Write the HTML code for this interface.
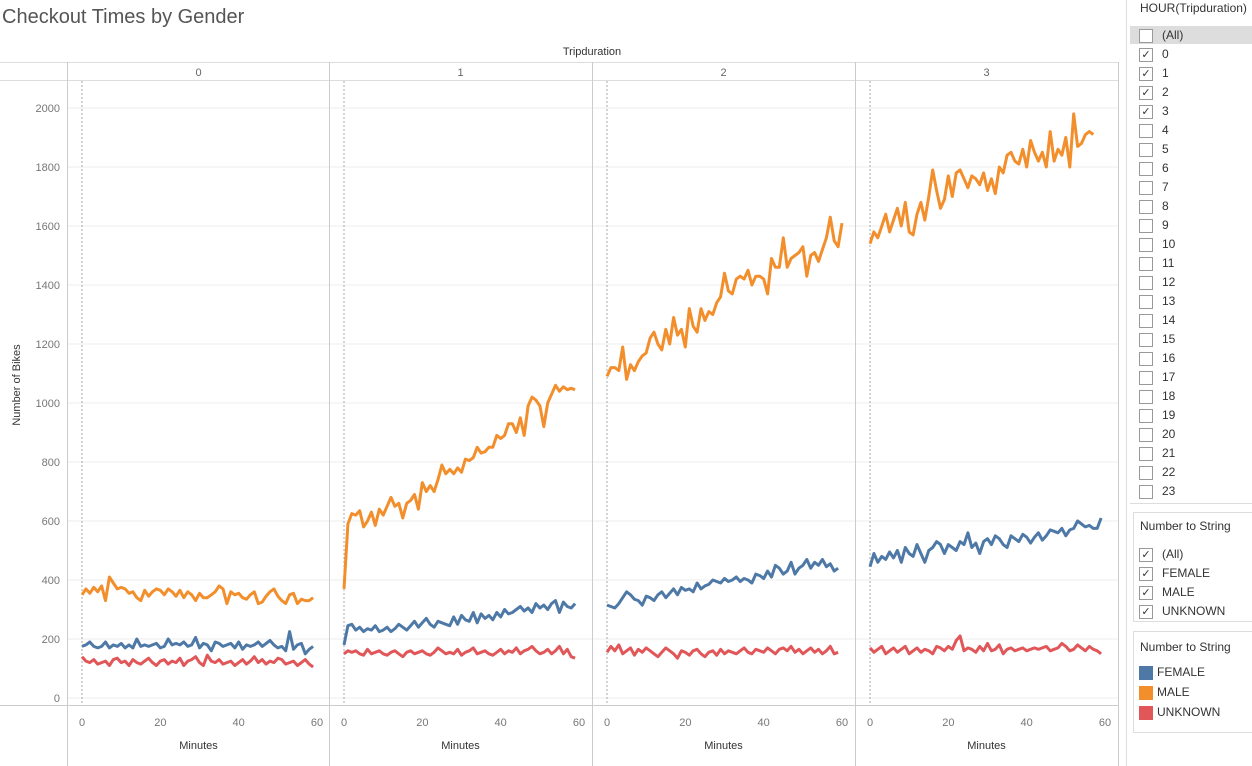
<!DOCTYPE html>
<html><head><meta charset="utf-8"><style>
body{margin:0;width:1252px;height:766px;background:#fff;font-family:"Liberation Sans",sans-serif;overflow:hidden;position:relative}
.t{position:absolute;white-space:nowrap}
.row{position:absolute;left:1140px;font-size:12px;color:#333;height:19px;line-height:19px}
.cb{position:absolute;left:-1px;top:3px;width:12px;height:12px;border:1px solid #999;background:#fff;font-size:11px;line-height:12px;text-align:center;color:#333}
.sw{position:absolute;left:-1px;top:3px;width:14px;height:14px}
</style></head><body>
<div class="t" style="left:2px;top:6px;font-size:20px;color:#555">Checkout Times by Gender</div>
<svg id="chart" width="1125" height="766" style="position:absolute;left:0;top:0"></svg>
<div style="position:absolute;left:1126px;top:0;width:1px;height:766px;background:#ddd"></div>
<div id="filters"></div>
<script>
const minutes=[...Array(61).keys()];
const male0=[350,370,355,375,360,380,330,410,390,370,375,370,355,360,340,330,365,345,360,370,365,350,370,360,345,365,340,360,350,330,355,340,340,350,360,380,370,320,360,350,355,340,335,350,360,320,325,345,360,370,345,330,320,350,355,320,335,330,330,340];
const female0=[175,180,190,175,170,175,190,170,180,175,185,170,180,170,200,175,180,175,180,185,170,175,200,180,185,180,190,175,180,205,170,185,180,160,190,185,175,180,185,170,190,165,180,175,180,190,175,185,195,180,170,175,160,225,165,180,185,150,165,175];
const unk0=[140,125,120,130,115,120,125,110,130,135,120,125,110,130,120,115,125,135,120,110,125,130,115,125,120,135,110,125,130,140,120,110,145,125,120,130,115,120,125,110,120,130,115,125,140,120,130,115,125,120,135,130,115,120,125,110,120,130,115,105];
const male1=[370,590,625,620,635,580,600,630,585,640,620,650,680,650,660,610,660,670,690,640,730,700,720,700,740,790,760,775,760,780,765,810,805,815,850,830,835,850,850,890,880,890,930,930,900,950,890,990,1020,1010,990,920,1000,1030,1060,1040,1055,1045,1050,1045];
const female1=[180,245,250,230,240,225,235,230,245,225,230,240,225,235,250,240,230,245,260,240,255,270,250,240,260,255,250,245,275,250,280,265,260,290,255,285,270,280,265,290,275,300,285,290,300,310,295,305,290,320,305,315,300,320,330,290,325,310,305,320];
const unk1=[150,160,155,160,150,145,165,150,155,160,150,145,155,160,150,140,155,160,150,155,160,150,145,155,170,160,150,155,150,165,145,155,160,170,150,155,160,150,145,155,165,150,160,155,170,150,160,165,175,160,150,155,165,150,160,175,150,165,140,135];
const male2=[1090,1120,1120,1110,1190,1080,1130,1110,1140,1160,1170,1220,1240,1200,1180,1250,1200,1290,1230,1250,1190,1320,1260,1240,1320,1280,1310,1300,1340,1360,1440,1380,1370,1420,1430,1420,1450,1400,1430,1430,1420,1370,1490,1460,1460,1560,1460,1490,1500,1510,1530,1430,1500,1510,1480,1520,1560,1630,1550,1530,1610];
const female2=[315,310,305,320,340,360,350,335,330,315,345,340,330,350,360,340,355,370,350,375,365,370,360,390,370,380,385,400,395,390,405,395,400,410,395,405,400,390,420,415,405,430,410,450,440,420,430,460,420,440,450,470,440,460,450,470,445,455,430,440];
const unk2=[155,175,160,180,150,160,170,145,165,155,170,160,150,140,155,170,160,150,135,160,155,145,160,165,150,140,155,160,145,165,150,160,155,150,160,170,155,150,165,160,155,170,160,150,165,170,160,175,155,165,150,160,170,155,165,150,160,175,150,155];
const male3=[1540,1580,1560,1600,1640,1580,1620,1660,1600,1680,1580,1570,1640,1680,1620,1700,1790,1720,1660,1690,1770,1700,1780,1790,1760,1730,1770,1760,1740,1780,1720,1760,1710,1800,1780,1840,1850,1820,1810,1860,1800,1890,1850,1820,1850,1800,1920,1820,1860,1840,1900,1800,1980,1870,1880,1910,1920,1910];
const female3=[445,490,460,480,470,495,475,500,460,510,490,480,520,490,460,500,510,530,520,490,520,510,500,530,520,560,510,525,490,530,540,520,550,540,520,510,550,540,530,555,545,525,545,560,535,550,570,565,560,575,550,570,575,600,590,580,585,575,575,610];
const unk3=[170,155,165,175,150,160,170,155,165,175,150,160,170,155,165,160,150,175,170,160,175,165,195,210,160,170,165,155,175,160,185,160,165,180,150,165,170,160,165,170,160,165,170,165,170,175,160,165,170,185,175,160,165,180,170,160,175,165,160,150];
const tripHours=["0","1","2","3"];
const yTicks=[0,200,400,600,800,1000,1200,1400,1600,1800,2000];
const xTicks=[0,20,40,60];
const maleS=[male0,male1,male2,male3],femaleS=[female0,female1,female2,female3],unkS=[unk0,unk1,unk2,unk3];
const NS="http://www.w3.org/2000/svg",svg=document.getElementById('chart');
const panelL=[67,329,592,855],PW=263;
const yS=v=>698-v*0.295, xS=(p,m)=>panelL[p]+15+m*3.917;
function mk(tag,a,parent){const e=document.createElementNS(NS,tag);for(const k in a)e.setAttribute(k,a[k]);(parent||svg).appendChild(e);return e;}
function txt(x,y,s,sz,fill,anchor,extra){const e=mk('text',Object.assign({x:x,y:y,'font-size':sz,fill:fill,'text-anchor':anchor||'middle','font-family':'Liberation Sans, sans-serif'},extra||{}));e.textContent=s;return e;}
// gridlines
yTicks.forEach(v=>{const l=mk('line',{x1:67,x2:1118,y1:yS(v),y2:yS(v),stroke:'#ececec','stroke-width':1});


const t=txt(60,yS(v)+4,String(v),11,'#777','end');

});
mk('line',{x1:0,x2:1118,y1:80.5,y2:80.5,stroke:'#ddd'});
mk('line',{x1:0,x2:1118,y1:705.5,y2:705.5,stroke:'#ccc'});
mk('line',{x1:0,x2:1118,y1:62.5,y2:62.5,stroke:'#ddd'});
[67,329,592,855,1118].forEach(x=>mk('line',{x1:x+.5,x2:x+.5,y1:62,y2:766,stroke:'#ccc'}));
const ht=txt(592,55,'Tripduration',11,'#333');


const yl=txt(20,385,'Number of Bikes',11,'#333','middle',{transform:'rotate(-90 20 385)'});


tripHours.forEach((h,p)=>{
 const c=txt(panelL[p]+PW/2,76,h,11,'#666');
 
 
 mk('line',{x1:xS(p,0),x2:xS(p,0),y1:81,y2:705,stroke:'#aaa','stroke-dasharray':'2,2'});
 xTicks.forEach(m=>{const t=txt(xS(p,m),726,String(m),11,'#777');
  
  });
 const xt=txt(panelL[p]+PW/2,749,'Minutes',11,'#333');
 
 
 [[femaleS,'#4e79a7','female'],[maleS,'#f28e2b','male'],[unkS,'#e15759','unknown']].forEach(([S,col,n])=>{
  const d=S[p].map((v,i)=>(i?'L':'M')+xS(p,minutes[i]).toFixed(1)+','+yS(v).toFixed(1)).join('');
  const pa=mk('path',{d:d,fill:'none',stroke:col,'stroke-width':3,'stroke-linejoin':'round'});
  
  
 });
});
// filters
const F=document.getElementById('filters');
function div(html,style,name,inter){const d=document.createElement('div');d.innerHTML=html;d.setAttribute('style',style);


F.appendChild(d);return d;}
div('HOUR(Tripduration)','position:absolute;left:1140px;top:0;font-size:12px;color:#333;line-height:17px','hour-filter-title','false');
div('','position:absolute;left:1130px;top:26px;width:122px;height:18px;background:#ddd','all-row-highlight','false');
const hrs=['(All)'].concat([...Array(24).keys()].map(String));
hrs.forEach((h,i)=>{const ck=i>=1&&i<=4;
 div('<span class="cb">'+(ck?'✓':'')+'</span><span style="margin-left:22px">'+h+'</span>','top:'+(26+i*19)+'px','hour-checkbox-'+h,'true').className='row';});
div('','position:absolute;left:1130px;top:503px;width:122px;height:1px;background:#ddd','divider','false');
div('','position:absolute;left:1133px;top:512px;width:119px;height:108px;border:1px solid #ddd;border-right:none','gender-filter-box','false');
div('Number to String','position:absolute;left:1140px;top:519px;font-size:12px;color:#333','gender-filter-title','false');
['(All)','FEMALE','MALE','UNKNOWN'].forEach((g,i)=>div('<span class="cb">✓</span><span style="margin-left:22px">'+g+'</span>','top:'+(545+i*19)+'px','gender-checkbox-'+g.toLowerCase(),'true').className='row');
div('','position:absolute;left:1133px;top:631px;width:119px;height:100px;border:1px solid #ddd;border-right:none','legend-box','false');
div('Number to String','position:absolute;left:1140px;top:640px;font-size:12px;color:#333','legend-title','false');
[['FEMALE','#4e79a7'],['MALE','#f28e2b'],['UNKNOWN','#e15759']].forEach(([g,c],i)=>div('<span class="sw" style="background:'+c+'"></span><span style="margin-left:17px">'+g+'</span>','top:'+(663+i*20)+'px','legend-entry-'+g.toLowerCase(),'true').className='row');
</script>
</body></html>
